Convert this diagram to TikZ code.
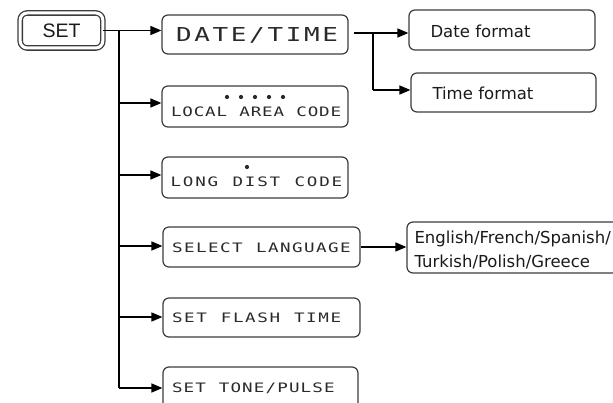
\documentclass[tikz,border=0pt]{standalone}
\usepackage{fontspec}
\usepackage{graphicx}
\setmainfont{DejaVu Sans}
\newfontfamily\lcdfont{DejaVu Sans Mono}
\newfontfamily\setfont{Liberation Sans}
\usetikzlibrary{arrows.meta,calc}
\definecolor{boxc}{HTML}{3C3C3C}
\definecolor{lcdc}{HTML}{2A2A2A}
\definecolor{txtc}{HTML}{1A1A1A}
\newdimen\lcdpitch
\def\lcdloop#1{\ifx#1\relax\else\makebox[\lcdpitch][l]{\scalebox{1.35}[1]{#1}}\expandafter\lcdloop\fi}
\newcommand\lcd[2]{\lcdpitch=#1pt\lcdloop#2\relax}
\tikzset{
  lcdbox/.style={draw=boxc, line width=1.2pt, rounded corners=6pt, align=left,
    text=lcdc, inner ysep=0pt, text depth=0pt,
    font=\lcdfont\fontsize{13}{15}\selectfont},
  txtbox/.style={draw=boxc, line width=1.2pt, rounded corners=6pt, align=left,
    text=txtc, inner ysep=0pt, text depth=0pt,
    font=\fontsize{16.5}{24}\selectfont},
  conn/.style={line width=1.5pt},
  arr/.style={line width=1.5pt, -{Triangle[length=11pt,width=9pt]}},
  lcddot/.style={fill=lcdc}
}
\begin{document}
\begin{tikzpicture}[x=1pt,y=-1pt]
\useasboundingbox (0,0) rectangle (613,403);
\clip (0,0) rectangle (613,403);
\fill[white] (0,0) rectangle (613,403);

% SET key
\node[draw=boxc, line width=1.3pt, double=white, double distance=3pt, rounded corners=7pt,
      minimum width=82.6pt, minimum height=35pt, inner sep=0pt,
      font=\setfont\fontsize{19.5}{19.5}\selectfont, text=txtc] (set) at (61.5,30.5) {SET};

% menu boxes
\node[lcdbox, font=\lcdfont\fontsize{19.2}{20}\selectfont, minimum width=186pt, minimum height=39pt,
      inner xsep=14pt, text width=158pt, text height=14pt] (date) at (255,34.5) {\lcd{18.3}{DATE/TIME}};
\node[lcdbox, minimum width=186pt, minimum height=41pt, inner xsep=9pt, text width=168pt,
      text height=19.5pt] (local) at (255,106.5) {\lcd{11.4}{LOCAL~AREA~CODE}};
\node[lcdbox, minimum width=186pt, minimum height=41pt, inner xsep=8.5pt, text width=169pt,
      text height=18.5pt] (long) at (255,177.5) {\lcd{12.4}{LONG~DIST~CODE}};
\node[lcdbox, minimum width=197pt, minimum height=40pt, inner xsep=9pt, text width=179pt,
      text height=11.5pt] (select) at (261.5,247) {\lcd{12.0}{SELECT~LANGUAGE}};
\node[lcdbox, minimum width=197pt, minimum height=39pt, inner xsep=9pt, text width=179pt,
      text height=10.5pt] (flash) at (261.5,317.5) {\lcd{12.2}{SET~FLASH~TIME}};
\node[lcdbox, minimum width=195pt, minimum height=46pt, inner xsep=9pt, text width=177pt,
      text height=4.5pt] (tone) at (260.5,390) {\lcd{11.7}{SET~TONE/PULSE}};

% display dots
\foreach \dx in {227,241,255,269,283} \fill[lcddot] (\dx,97) circle (2.1pt);
\fill[lcddot] (247,167) circle (2.1pt);

% sub boxes
\node[txtbox, minimum width=186pt, minimum height=40pt, inner xsep=21.5pt, text width=143pt,
      text height=15.7pt] (dfmt) at (502,30) {Date format};
\node[txtbox, minimum width=185pt, minimum height=39pt, inner xsep=21.5pt, text width=142pt,
      text height=13.7pt] (tfmt) at (503.5,92.5) {Time format};
\node[txtbox, minimum width=218pt, minimum height=51pt, inner xsep=7.5pt, text width=203pt,
      text height=16.5pt, text depth=24pt] (lang) at (516,247.5) {English/French/Spanish/\\Turkish/Polish/Greece};

% trunk coordinates
\coordinate (t1) at (119,30.5);
\coordinate (t2) at (119,103);
\coordinate (t3) at (119,175);
\coordinate (t4) at (119,246);
\coordinate (t5) at (119,317);
\coordinate (t6) at (119,388);

\draw[conn] (set.east) -- (t1);
\draw[conn] (t1) -- (t6);
\draw[arr] (t1) -- (t1 -| date.west);
\draw[arr] (t2) -- (t2 -| local.west);
\draw[arr] (t3) -- (t3 -| long.west);
\draw[arr] (t4) -- (t4 -| select.west);
\draw[arr] (t5) -- (t5 -| flash.west);
\draw[arr] (t6) -- (t6 -| tone.west);

% date/time branch
\coordinate (b0) at (354,33);
\coordinate (b1) at (373,33);
\coordinate (b2) at (373,90);
\draw[arr] (b0) -- (b0 -| dfmt.west);
\draw[conn] (b1) -- (b2);
\draw[arr] (b2) -- (b2 -| tfmt.west);

% language branch
\coordinate (s0) at (361,247);
\draw[arr] (s0) -- (s0 -| lang.west);
\end{tikzpicture}
\end{document}
